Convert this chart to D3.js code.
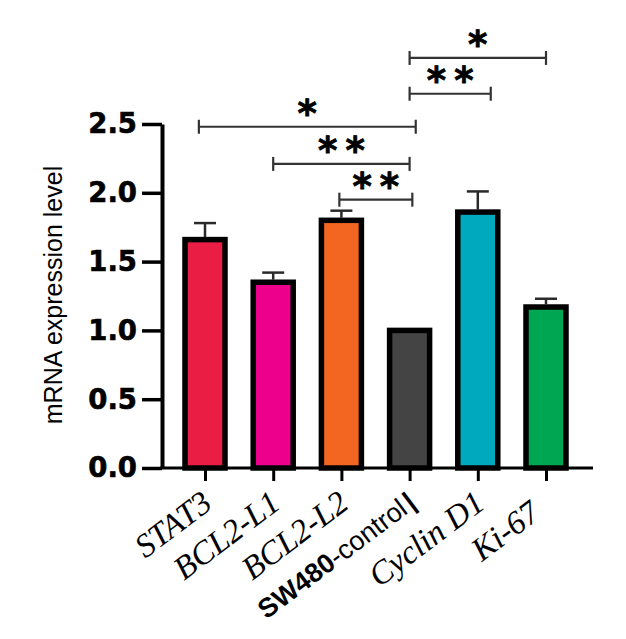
<!DOCTYPE html>
<html><head><meta charset="utf-8">
<script src="https://cdn.jsdelivr.net/npm/d3@7"></script>
<style>html,body{margin:0;padding:0;background:#fff}</style>
</head><body>
<svg id="c" width="626" height="639"></svg>
<script>
const categories = ["STAT3","BCL2-L1","BCL2-L2","SW480-control","Cyclin D1","Ki-67"];
const means  = [1.66, 1.35, 1.80, 1.00, 1.86, 1.17];
const errors = [0.12, 0.07, 0.07, 0, 0.15, 0.06];
const colors = ["#EA1D45","#EC008C","#F26622","#444444","#00A9BD","#00A651"];
const yTicks = [0, 0.5, 1.0, 1.5, 2.0, 2.5];
// significance brackets: [from index, to index, y level, label]
const bracketFrom  = [3.0, 3.0, -0.09, 1.0, 1.97];
const bracketTo    = [5.0, 4.19, 3.09, 3.0, 3.04];
const bracketLevel = [2.98, 2.72, 2.48, 2.21, 1.95];
const bracketLabel = ["*", "**", "*", "**", "**"];

const svg = d3.select("#c");
const y = d3.scaleLinear().domain([0, 2.5]).range([468, 124]);
const x = d3.scalePoint().domain(categories).range([205, 546]);
const xi = d3.scaleLinear().domain([0, categories.length - 1]).range([205, 546]);
const barW = 40;

// bars
svg.append("g").selectAll("rect").data(categories).join("rect")
  .attr("x", d => x(d) - barW/2)
  .attr("y", (d,i) => y(means[i]))
  .attr("width", barW)
  .attr("height", (d,i) => y(0) - y(means[i]))
  .attr("fill", (d,i) => colors[i])
  .attr("stroke", "#000").attr("stroke-width", 5.5);

// error bars
const eg = svg.append("g").attr("stroke", "#2a2a2a").attr("stroke-width", 2.5);
categories.forEach((c,i) => {
  if (!errors[i]) return;
  eg.append("line").attr("x1", x(c)).attr("x2", x(c))
    .attr("y1", y(means[i]) - 2.5).attr("y2", y(means[i] + errors[i]));
  eg.append("line").attr("x1", x(c) - 11).attr("x2", x(c) + 11)
    .attr("y1", y(means[i] + errors[i])).attr("y2", y(means[i] + errors[i]));
});

// y axis
const ya = svg.append("g").attr("transform", "translate(162,0)")
  .call(d3.axisLeft(y).tickValues(yTicks).tickFormat(d3.format(".1f")).tickSize(20).tickSizeOuter(0).tickPadding(5));
ya.select(".domain").attr("stroke", "#000").attr("stroke-width", 4);
ya.selectAll(".tick line").attr("stroke", "#000").attr("stroke-width", 3.5);
ya.selectAll(".tick text").attr("font-family", "DejaVu Sans").attr("font-weight", "bold")
  .attr("font-size", 27.5).attr("fill", "#000").attr("stroke", "#000").attr("stroke-width", 0.6);

// x axis
const xa = svg.append("g").attr("transform", "translate(0,468)")
  .call(d3.axisBottom(x).tickSize(13).tickSizeOuter(0).tickFormat(""));
xa.select(".domain").remove();
xa.selectAll(".tick line").attr("stroke", "#000").attr("stroke-width", 3);
svg.append("line").attr("x1", 160).attr("x2", 593).attr("y1", 468).attr("y2", 468)
  .attr("stroke", "#000").attr("stroke-width", 3);

// x labels
const lab = svg.append("g");
categories.forEach((c,i) => {
  const t = lab.append("text").attr("text-anchor", "end")
    .attr("fill", "#000");
  if (c === "SW480-control") {
    t.attr("transform", `translate(${x(c) + 8},${506}) rotate(-37)`)
      .attr("font-family", "Liberation Sans").attr("font-size", 27);
    t.append("tspan").attr("font-weight", "bold").text("SW480");
    t.append("tspan").text("-control");
    t.append("tspan").attr("font-weight", "bold").attr("dx", 3).text("|");
  } else {
    t.attr("transform", `translate(${x(c) + 9},${507}) rotate(-37)`)
      .attr("font-family", "Liberation Serif").attr("font-style", "italic").attr("font-size", 33)
      .text(c === "Ki-67" ? c + "\u00A0\u00A0" : c);
  }
});

// y label
svg.append("text").attr("transform", "translate(62,295) rotate(-90)")
  .attr("text-anchor", "middle").attr("font-family", "Liberation Sans")
  .attr("font-size", 25).attr("fill", "#000").text("mRNA expression level");

// brackets
const bg = svg.append("g");
bracketLabel.forEach((lbl,i) => {
  const x1 = xi(bracketFrom[i]), x2 = xi(bracketTo[i]), yy = y(bracketLevel[i]);
  const g = bg.append("g").attr("stroke", "#333").attr("stroke-width", 2.2);
  g.append("line").attr("x1", x1).attr("x2", x2).attr("y1", yy).attr("y2", yy);
  g.append("line").attr("x1", x1).attr("x2", x1).attr("y1", yy - 7).attr("y2", yy + 7);
  g.append("line").attr("x1", x2).attr("x2", x2).attr("y1", yy - 7).attr("y2", yy + 7);
  const ls = 8;
  bg.append("text").attr("x", (x1 + x2)/2 + (lbl.length > 1 ? ls/2 : 0)).attr("y", yy - 1)
    .attr("text-anchor", "middle").attr("font-family", "DejaVu Sans").attr("font-weight", "bold")
    .attr("font-size", 37).attr("letter-spacing", lbl.length > 1 ? ls : 0)
    .attr("fill", "#000").attr("stroke", "#000").attr("stroke-width", 0.8).text(lbl);
});
</script>
</body></html>
